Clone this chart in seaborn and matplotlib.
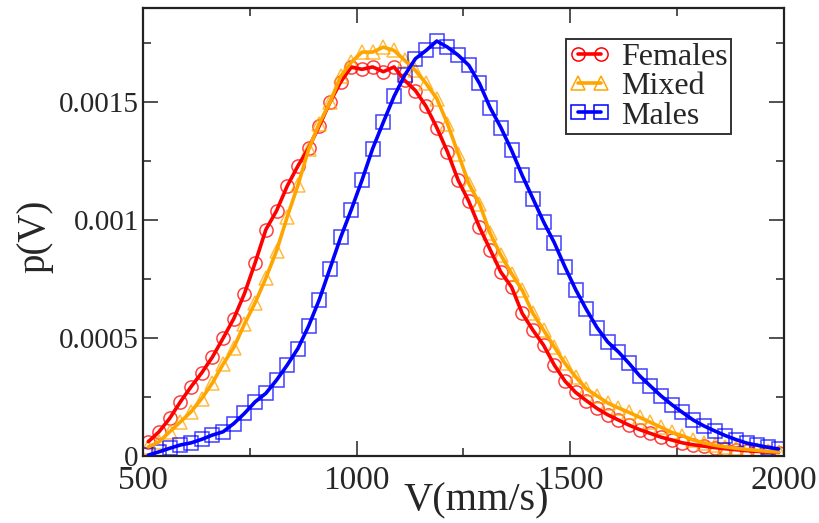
import matplotlib
matplotlib.use("Agg")
import matplotlib.pyplot as plt
from matplotlib.lines import Line2D
from matplotlib.ticker import FuncFormatter, MultipleLocator
import numpy as np
import pandas as pd
import seaborn as sns

# bin centres of the speed histogram (mm/s)
V_START, V_STEP, N_BINS = 512.5, 25.0, 60

females = [
    6.1e-5, 1.03e-4, 1.6e-4, 2.3e-4, 2.94e-4, 3.53e-4, 4.2e-4, 5.0e-4, 5.83e-4, 6.89e-4,
    8.2e-4, 9.6e-4, 1.04e-3, 1.145e-3, 1.23e-3, 1.306e-3, 1.4e-3, 1.5e-3, 1.586e-3, 1.65e-3,
    1.64e-3, 1.65e-3, 1.63e-3, 1.65e-3, 1.593e-3, 1.55e-3, 1.483e-3, 1.393e-3, 1.29e-3, 1.17e-3,
    1.08e-3, 9.7e-4, 8.75e-4, 7.8e-4, 7.17e-4, 6.05e-4, 5.34e-4, 4.7e-4, 3.86e-4, 3.18e-4,
    2.7e-4, 2.35e-4, 2.02e-4, 1.75e-4, 1.53e-4, 1.31e-4, 1.12e-4, 9.6e-5, 8.0e-5, 6.8e-5,
    5.6e-5, 4.8e-5, 4.2e-5, 3.6e-5, 3.1e-5, 2.7e-5, 2.3e-5, 2.0e-5, 1.7e-5, 1.5e-5,
]
mixed = [
    3.9e-5, 6.0e-5, 1.03e-4, 1.45e-4, 1.88e-4, 2.44e-4, 3.1e-4, 3.9e-4, 4.6e-4, 5.6e-4,
    6.5e-4, 7.55e-4, 8.7e-4, 1.014e-3, 1.148e-3, 1.3e-3, 1.41e-3, 1.5e-3, 1.61e-3, 1.67e-3,
    1.713e-3, 1.713e-3, 1.734e-3, 1.72e-3, 1.678e-3, 1.635e-3, 1.58e-3, 1.516e-3, 1.41e-3, 1.283e-3,
    1.155e-3, 1.07e-3, 9.44e-4, 8.52e-4, 7.74e-4, 7.03e-4, 6.05e-4, 5.34e-4, 4.63e-4, 3.93e-4,
    3.36e-4, 2.85e-4, 2.55e-4, 2.25e-4, 2.04e-4, 1.85e-4, 1.64e-4, 1.43e-4, 1.22e-4, 1.0e-4,
    8.6e-5, 6.8e-5, 5.6e-5, 4.6e-5, 3.9e-5, 3.3e-5, 2.8e-5, 2.4e-5, 2.0e-5, 1.7e-5,
]
males = [
    4e-6, 1.8e-5, 3.3e-5, 4.7e-5, 5.6e-5, 7.1e-5, 8.9e-5, 1.03e-4, 1.38e-4, 1.81e-4,
    2.3e-4, 2.66e-4, 3.22e-4, 3.86e-4, 4.56e-4, 5.51e-4, 6.63e-4, 7.95e-4, 9.27e-4, 1.045e-3,
    1.17e-3, 1.304e-3, 1.416e-3, 1.525e-3, 1.615e-3, 1.685e-3, 1.72e-3, 1.76e-3, 1.734e-3, 1.7e-3,
    1.657e-3, 1.58e-3, 1.477e-3, 1.393e-3, 1.297e-3, 1.19e-3, 1.092e-3, 9.93e-4, 9.05e-4, 8.02e-4,
    7.06e-4, 6.22e-4, 5.45e-4, 4.84e-4, 4.42e-4, 3.93e-4, 3.4e-4, 2.97e-4, 2.55e-4, 2.18e-4,
    1.85e-4, 1.53e-4, 1.28e-4, 1.07e-4, 8.7e-5, 7.0e-5, 5.5e-5, 4.6e-5, 3.7e-5, 3.0e-5,
]

groups = ["Females", "Mixed", "Males"]
colors = {"Females": "#ff0000", "Mixed": "#ffa500", "Males": "#0000ff"}
markers = {"Females": "o", "Mixed": "^", "Males": "s"}


def main() -> None:
    speed = V_START + V_STEP * np.arange(N_BINS)
    df = pd.DataFrame({
        "V": np.tile(speed, 3),
        "p": np.concatenate([females, mixed, males]),
        "group": np.repeat(groups, N_BINS),
    })

    sns.set_style("ticks")
    plt.rcParams["font.family"] = ["Liberation Serif", "DejaVu Serif"]

    fig = plt.figure(figsize=(8.19, 5.23), dpi=100)
    ax = fig.add_axes([0.1746, 0.128, 0.7826, 0.8567])

    for name in groups:
        sub = df[df["group"] == name]
        c = colors[name]
        # hollow markers underneath the line
        sns.lineplot(data=sub, x="V", y="p", ax=ax, linestyle="", marker=markers[name],
                     markersize=9.5, mfc="none", mec=c, mew=1.1, alpha=0.75, zorder=2)
        sns.lineplot(data=sub, x="V", y="p", ax=ax, color=c, linewidth=2.6, zorder=3)

    ax.set_xlim(500, 2000)
    ax.set_ylim(0, 0.0019)
    ax.xaxis.set_major_locator(MultipleLocator(500))
    ax.xaxis.set_minor_locator(MultipleLocator(250))
    ax.yaxis.set_major_locator(MultipleLocator(0.0005))
    ax.yaxis.set_minor_locator(MultipleLocator(0.00025))
    fmt = FuncFormatter(lambda v, _: f"{v:g}")
    ax.xaxis.set_major_formatter(fmt)
    ax.yaxis.set_major_formatter(fmt)
    ax.tick_params(which="both", direction="in", top=True, right=True, width=1.2,
                   color="#333333")
    ax.tick_params(which="major", length=11)
    ax.tick_params(which="minor", length=6)
    ax.tick_params(axis="x", which="major", pad=7, labelsize=24)
    ax.tick_params(axis="y", which="major", pad=3, labelsize=21)
    for spine in ax.spines.values():
        spine.set_visible(True)
        spine.set_linewidth(1.6)
        spine.set_color("#222222")

    ax.set_xlabel("V(mm/s)", fontsize=29)
    ax.set_ylabel("p(V)", fontsize=28)
    ax.xaxis.set_label_coords(0.52, -0.1)
    ax.xaxis.label.set_va("center")
    ax.yaxis.set_label_coords(-0.168, 0.49)
    ax.yaxis.label.set_va("center")

    handles = [
        Line2D([], [], color=colors[n], linewidth=2.6, marker=markers[n], markersize=9.5,
               mfc="none", mec=colors[n], mew=1.1)
        for n in groups
    ]
    leg = ax.legend(handles, groups, loc="upper right", bbox_to_anchor=(0.918, 0.93),
                    fontsize=23, numpoints=2, handlelength=1.3, handletextpad=0.35,
                    labelspacing=0.0, borderpad=0.1, borderaxespad=0.0,
                    fancybox=False, frameon=True)
    leg.get_frame().set_edgecolor("black")
    leg.get_frame().set_linewidth(1.4)

    fig.savefig("out.png", dpi=100)
    plt.close(fig)


if __name__ == "__main__":
    main()
